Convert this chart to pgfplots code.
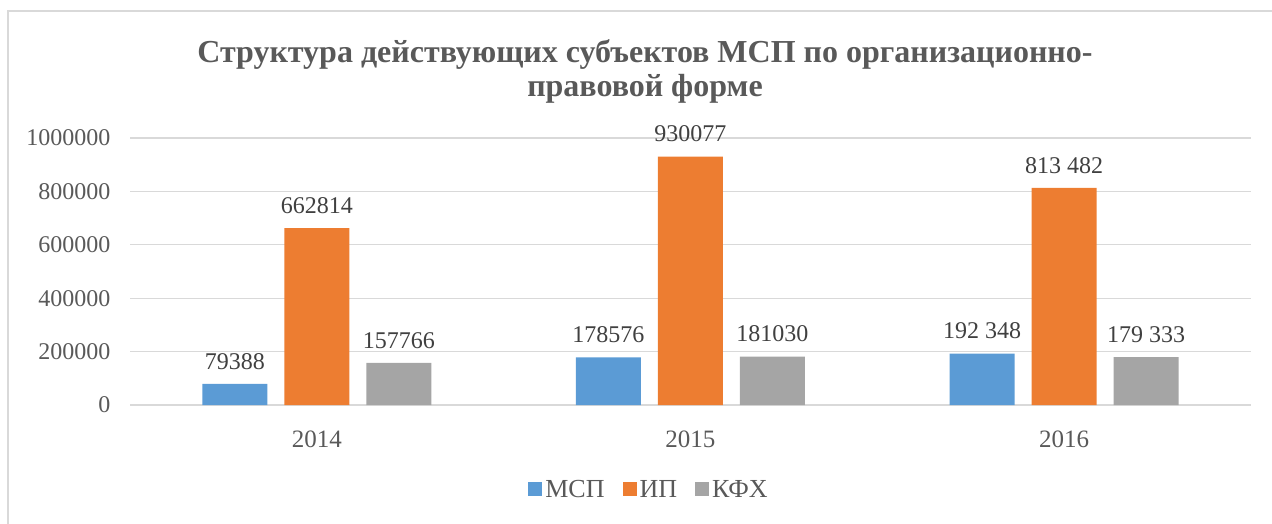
\documentclass[border=0pt]{standalone}
\usepackage{fontspec}
\setmainfont{Liberation Serif}
\usepackage{pgfplots}
\pgfplotsset{compat=1.18}
\definecolor{cBlue}{HTML}{5B9BD5}
\definecolor{cOrange}{HTML}{ED7D31}
\definecolor{cGray}{HTML}{A5A5A5}
\definecolor{cText}{HTML}{595959}
\definecolor{cLabel}{HTML}{404040}
\definecolor{cGrid}{HTML}{D9D9D9}
\begin{document}
\begin{tikzpicture}
\useasboundingbox (0pt,0pt) rectangle (1272pt,523pt);
\draw[cGrid,line width=1.5pt] (8pt,-5pt) -- (8pt,512pt) -- (1280pt,512pt);
\node[font=\fontsize{32}{34}\selectfont\bfseries,text=cText,align=center,anchor=base] at (645pt,426pt)
  {Структура действующих субъектов МСП по организационно-\\правовой форме};
\begin{axis}[
  at={(130pt,118pt)}, anchor=south west,
  scale only axis, width=1121pt, height=267pt,
  xmin=-0.5, xmax=2.5, ymin=0, ymax=1000000,
  ytick={0,200000,...,1000000},
  xtick={0,1,2}, xticklabels={2014,2015,2016},
  axis line style={draw=none},
  major tick length=0pt,
  ymajorgrids, grid style={cGrid,line width=1.2pt},
  tick label style={font=\fontsize{24}{26}\selectfont,text=cText},
  yticklabel style={xshift=-16pt},
  xticklabel style={yshift=-22pt,font=\fontsize{25}{27}\selectfont},
  /pgf/number format/assume math mode=true,
  scaled y ticks=false,
  yticklabel={\pgfmathprintnumber[fixed,precision=0,1000 sep={}]{\tick}},
  ybar, bar width=65pt,
  point meta=explicit symbolic,
  nodes near coords,
  nodes near coords style={font=\fontsize{24}{26}\selectfont,text=cLabel,anchor=south,yshift=11pt},
  legend columns=3,
  legend style={at={(axis description cs:0.463,-0.318)},anchor=center,draw=none,
    font=\fontsize{26}{28}\selectfont,text=cText,
    /tikz/every odd column/.append style={column sep=1pt},
    /tikz/every even column/.append style={column sep=16pt}},
  legend image code/.code={\fill[#1] (0pt,-6pt) rectangle (14pt,8pt);},
]
\addplot[fill=cBlue,draw=none,bar shift=-82pt] coordinates {(0,79388) [79388] (1,178576) [178576] (2,192348) [192 348]};
\addplot[fill=cOrange,draw=none,bar shift=0pt] coordinates {(0,662814) [662814] (1,930077) [930077] (2,813482) [813 482]};
\addplot[fill=cGray,draw=none,bar shift=82pt] coordinates {(0,157766) [157766] (1,181030) [181030] (2,179333) [179 333]};
\legend{МСП,ИП,КФХ}
\end{axis}
\end{tikzpicture}
\end{document}
